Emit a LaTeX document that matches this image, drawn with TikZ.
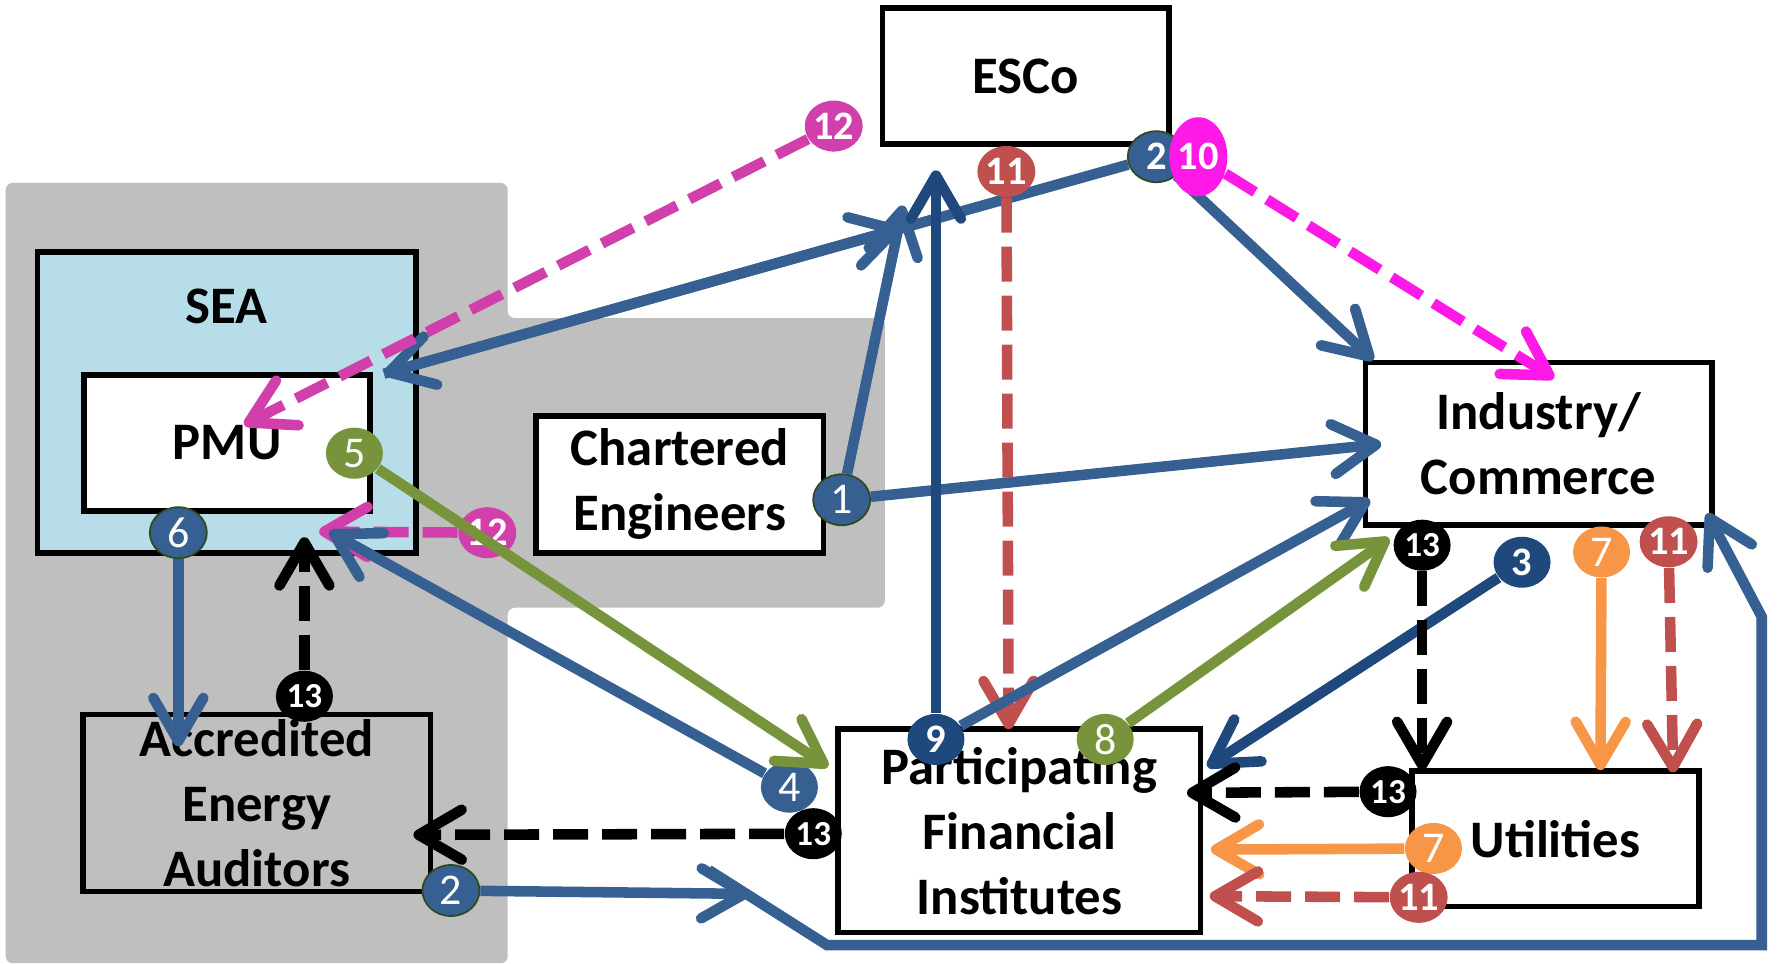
\documentclass[tikz,border=0pt]{standalone}
\usepackage{fontspec}
\setmainfont{Carlito}
\usetikzlibrary{arrows.meta}
\usetikzlibrary{shapes.geometric}
\usetikzlibrary{fit}
\usetikzlibrary{backgrounds}

\pgfdeclarelayer{foreground}
\pgfsetlayers{background,main,foreground}

\begin{document}
\begin{tikzpicture}[x = 0.11358mm, y = -0.11358mm,
  box/.style = {draw, line width = 1.6pt, fill = white, inner sep = 0pt},
  title/.style = {font = \bfseries\fontsize{15}{18.5}\selectfont, align = center},
  every label/.style = {title},
  marker/.style = {ellipse, fill = #1, text = white, inner sep = 0pt,
    minimum width = 5.7mm, minimum height = 5.1mm, font = \bfseries\fontsize{11.5}{11.5}\selectfont},
  light/.style = {font = \fontsize{12.5}{12.5}\selectfont},
  tight/.style = {font = \bfseries\fontsize{10}{10}\selectfont},
  rim/.style = {draw = rimgreen, line width = 0.5pt},
  flow/.style = {line width = 3pt, -{Straight Barb[length = 4.3mm, width = 5mm, round]}},
  dashed flow/.style = {flow, dash pattern = on 3.5mm off 1.4mm}]

\definecolor{steel}{HTML}{376092}
\definecolor{navy}{HTML}{1F497D}
\definecolor{leaf}{HTML}{77933C}
\definecolor{brick}{HTML}{C0504D}
\definecolor{amber}{HTML}{F79646}
\definecolor{plum}{HTML}{D13FAB}
\definecolor{fuchsia}{HTML}{FF19E6}
\definecolor{panel}{HTML}{BFBFBF}
\definecolor{seafill}{HTML}{B7DEE8}
\definecolor{rimgreen}{HTML}{2E4A1E}

\useasboundingbox (0,0) rectangle (1568,848);

\begin{pgfonlayer}{background}
\fill[panel, rounded corners = 2] (5,161) -- (447,161) -- (447,280) -- (779,280) -- (779,535)
  -- (447,535) -- (447,848) -- (5,848) -- cycle;
\end{pgfonlayer}

\node[box, fill = seafill, fit = {(33,222) (366,487)}] (sea) {};
\node[title] (sea title) at (199,270) {SEA};
\node[box, fit = {(74,330) (326,450)}, label = center:PMU] (pmu) {};
\node[box, fit = {(472,366) (725,487)}, label = center:{Chartered\\Engineers}] (ce) {};
\node[box, fit = {(777,7) (1029,127)}, label = center:ESCo] (esco) {};
\node[box, fit = {(1202,319) (1507,462)}, label = center:{Industry/\\Commerce}] (ind) {};
\node[box, fill = none, fit = {(73,629) (379,785)}, label = center:{Accredited\\Energy\\Auditors}] (aea) {};
\node[box, fit = {(738,642) (1057,821)}, label = center:{Participating\\Financial\\Institutes}] (pfi) {};
\node[box, fit = {(1243,679) (1496,798)}, label = center:Utilities] (util) {};

\begin{pgfonlayer}{foreground}
\node[marker = steel, rim, light] (m1) at (741,440) {1};
\node[marker = steel, rim] (m2 esco) at (1018,138) {2};
\node[marker = fuchsia, minimum width = 5.8mm, minimum height = 7.9mm] (m10) at (1055,138) {10};
\node[marker = brick] (m11 esco) at (886,151) {11};
\node[marker = plum] (m12 top) at (734,111) {12};
\node[marker = plum] (m12 sea) at (429,469) {12};
\node[marker = leaf, light] (m5) at (312,399) {5};
\node[marker = steel, rim, light] (m6) at (157,469) {6};
\node[marker = black, tight] (m13 aea) at (268,613) {13};
\node[marker = steel, light] (m4) at (695,693) {4};
\node[marker = black, tight] (m13 pfi) at (716,734) {13};
\node[marker = steel, rim, light] (m2 aea) at (397,784) {2};
\node[marker = navy] (m9) at (824,651) {9};
\node[marker = leaf, light] (m8) at (973,651) {8};
\node[marker = black, tight] (m13 ind) at (1252,480) {13};
\node[marker = navy] (m3) at (1340,495) {3};
\node[marker = amber, light] (m7 ind) at (1410,486) {7};
\node[marker = brick] (m11 ind) at (1469,477) {11};
\node[marker = black, tight] (m13 util) at (1222,697) {13};
\node[marker = amber, light] (m7 util) at (1262,747) {7};
\node[marker = brick] (m11 util) at (1249,790) {11};
\end{pgfonlayer}

\coordinate (t1 esco) at (795,181);
\coordinate (t1 ind) at (1216,391);
\coordinate (t2 sea) at (338,329);
\coordinate (t2 esco) at (793,201);
\coordinate (t2 ind) at (1209,317);
\coordinate (t10 ind) at (1368,333);
\coordinate (t11 pfi) at (888,642);
\coordinate (t12 pmu) at (215,374);
\coordinate (t12 sea) at (281,468);
\coordinate (t5 pfi) at (729,675);
\coordinate (t6 aea) at (157,657);
\coordinate (t13 sea) at (268,473);
\coordinate (t4 sea) at (290,468);
\coordinate (t13 aea) at (364,735);
\coordinate (t2 out) at (660,787);
\coordinate (loop a) at (624,766);
\coordinate (loop b) at (728,832);
\coordinate (loop c) at (1551,832);
\coordinate (loop d) at (1551,543);
\coordinate (t2 back) at (1503,452);
\coordinate (t9 esco) at (824,150);
\coordinate (t9 ind) at (1206,440);
\coordinate (t8 ind) at (1223,474);
\coordinate (t3 pfi) at (1063,675);
\coordinate (t13 util) at (1252,678);
\coordinate (t7 util) at (1409,678);
\coordinate (t11 util) at (1473,680);
\coordinate (t13 pfi) at (1045,698);
\coordinate (t7 pfi) at (1066,748);
\coordinate (t11 back) at (1065,789);

\draw[flow, steel] (m2 esco) -- (t2 sea);
\draw[flow, steel] (t2 sea) -- (t2 esco);
\draw[flow, steel] (m2 esco) -- (t2 ind);
\draw[flow, steel] (m1) -- (t1 esco);
\draw[flow, steel] (m1) -- (t1 ind);
\draw[dashed flow, fuchsia] (m10) -- (t10 ind);
\draw[dashed flow, brick] (m11 esco) -- (t11 pfi);
\draw[dashed flow, plum] (m12 top) -- (t12 pmu);
\draw[dashed flow, plum] (m12 sea) -- (t12 sea);
\begin{pgfonlayer}{foreground}
\draw[flow, leaf] (m5) -- (t5 pfi);
\end{pgfonlayer}
\draw[flow, steel] (m6) -- (t6 aea);
\draw[dashed flow, black] (m13 aea) -- (t13 sea);
\draw[flow, steel] (m4) -- (t4 sea);
\draw[dashed flow, black] (m13 pfi) -- (t13 aea);
\draw[flow, steel] (m2 aea) -- (t2 out);
\draw[flow, steel] (loop a) -- (loop b) -- (loop c) -- (loop d) -- (t2 back);
\draw[flow, navy] (m9) -- (t9 esco);
\draw[flow, steel] (m9) -- (t9 ind);
\draw[flow, leaf] (m8) -- (t8 ind);
\draw[flow, navy] (m3) -- (t3 pfi);
\draw[dashed flow, black] (m13 ind) -- (t13 util);
\draw[flow, amber] (m7 ind) -- (t7 util);
\draw[dashed flow, brick] (m11 ind) -- (t11 util);
\draw[dashed flow, black] (m13 util) -- (t13 pfi);
\draw[flow, amber] (m7 util) -- (t7 pfi);
\draw[dashed flow, brick] (m11 util) -- (t11 back);
\end{tikzpicture}
\end{document}
